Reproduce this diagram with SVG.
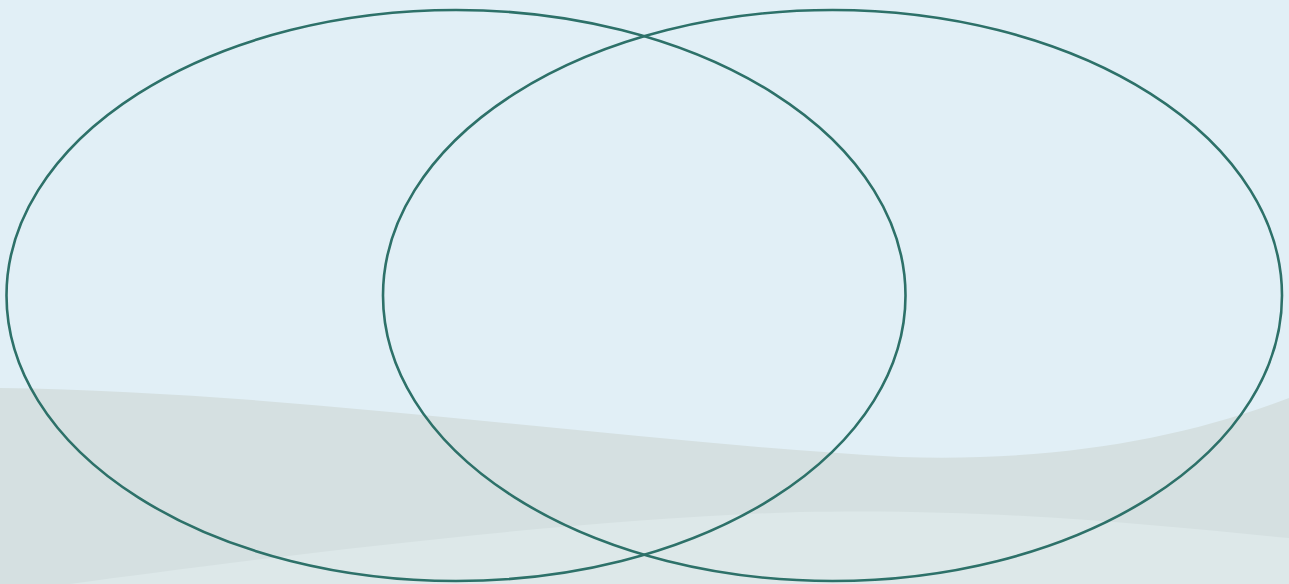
<svg xmlns="http://www.w3.org/2000/svg" width="1289" height="584" viewBox="0 0 1289 584">
<style>
.set{fill:none;stroke:#2d7169;stroke-width:2.6}
</style>
<g id="background">
<rect x="0" y="0" width="1289" height="584" fill="#e1eff6"/>
<path d="M0,388 C300,392 600,440 900,457 C1050,462 1180,440 1289,398 L1289,584 L0,584 Z" fill="#d5e0e1"/>
<path d="M70,584 C250,560 550,520 800,512 C1000,508 1150,525 1289,538 L1289,584 Z" fill="#dde8e9"/>
</g>
<g id="set-left">
<ellipse class="set" cx="456" cy="295.5" rx="449.5" ry="285.5"/>
</g>
<g id="set-right">
<ellipse class="set" cx="832.5" cy="295.5" rx="449.5" ry="285.5"/>
</g>
</svg>
